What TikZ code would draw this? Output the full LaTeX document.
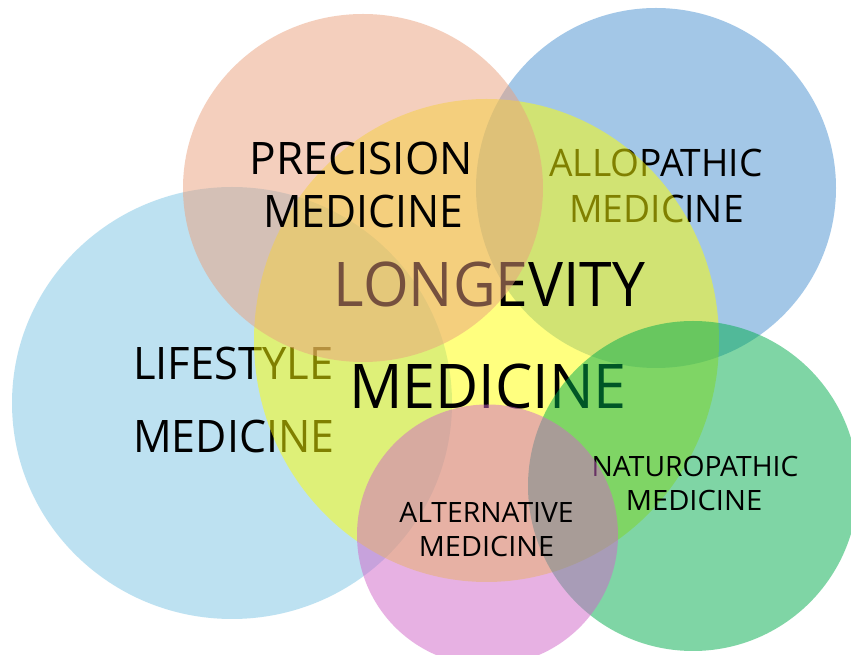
\documentclass[tikz,border=0pt]{standalone}
\usepackage{fontspec}
\setmainfont{Open Sans}
\definecolor{cpeach}{RGB}{235,161,125}
\definecolor{cblue}{RGB}{73,145,209}
\definecolor{cyellow}{RGB}{255,255,1}
\definecolor{clight}{RGB}{125,197,229}
\definecolor{cgreen}{RGB}{0,173,77}
\definecolor{cpink}{RGB}{209,101,201}
\newcommand{\squeeze}[2]{\scalebox{#1}[1]{#2}}
\begin{document}
\begin{tikzpicture}[x=0.75pt,y=-0.75pt,
  blob/.style={fill opacity=0.5, draw=none},
  lbl/.style={inner sep=0pt, anchor=base, text=black},
  bigtxt/.style={lbl, font=\fontsize{46.2}{50}\selectfont},
  midtxt/.style={lbl, font=\fontsize{33.6}{36}\selectfont},
  allotxt/.style={lbl, font=\fontsize{28.4}{30}\selectfont},
  smalltxt/.style={lbl, font=\fontsize{21}{23}\selectfont}]
\useasboundingbox (0,0) rectangle (851,655);
\clip (0,0) rectangle (851,655);
\fill[white] (0,0) rectangle (851,655);
% allopathic
\fill[blob, fill=cblue] (656,188) circle [radius=135pt];
\node[allotxt] (allo1) at (656,177) {\squeeze{0.98}{ALLOPATHIC}};
\node[allotxt] (allo2) at (656.5,223) {\squeeze{0.983}{MEDICINE}};
% lifestyle
\fill[blob, fill=clight] (232,403) ellipse [x radius=165pt, y radius=162pt];
\node[midtxt, anchor=base west] (life1) at (133,380) {\squeeze{0.97}{LIFESTYLE}};
\node[midtxt, anchor=base west] (life2) at (133,453) {\squeeze{0.957}{MEDICINE}};
% longevity
\fill[blob, fill=cyellow] (486.5,340.5) ellipse [x radius=174.375pt, y radius=181.125pt];
\node[bigtxt] (long1) at (489.5,307) {\squeeze{0.954}{LONGEVITY}};
\node[bigtxt] (long2) at (488,409) {\squeeze{0.962}{MEDICINE}};
% precision
\fill[blob, fill=cpeach] (363,188) ellipse [x radius=135pt, y radius=130.5pt];
\node[midtxt] (prec1) at (361.5,175) {\squeeze{0.987}{PRECISION}};
\node[midtxt] (prec2) at (363,228) {\squeeze{0.952}{MEDICINE}};
% naturopathic
\fill[blob, fill=cgreen] (693,486) circle [radius=123.75pt];
\node[smalltxt] (nat1) at (695,477) {\squeeze{1.01}{NATUROPATHIC}};
\node[smalltxt] (nat2) at (694,511) {\squeeze{1.04}{MEDICINE}};
% alternative
\fill[blob, fill=cpink] (487.5,535) circle [radius=97.875pt];
\node[smalltxt] (alt1) at (486.5,523) {\squeeze{1.01}{ALTERNATIVE}};
\node[smalltxt] (alt2) at (486.5,557) {\squeeze{1.03}{MEDICINE}};
\end{tikzpicture}
\end{document}
